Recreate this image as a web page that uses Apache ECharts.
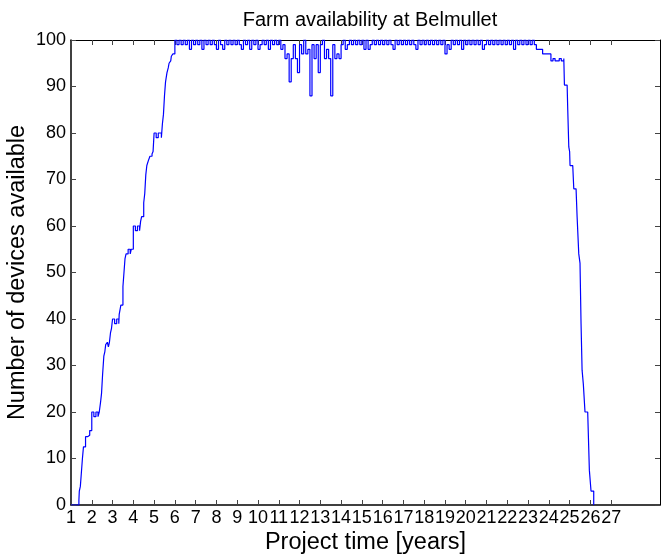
<!DOCTYPE html>
<html>
<head>
<meta charset="utf-8">
<script src="https://cdn.jsdelivr.net/npm/echarts@6/dist/echarts.min.js"></script>
<style>
  html, body { margin: 0; padding: 0; background: #fff; }
  #chart { width: 662px; height: 558px; }
</style>
</head>
<body>
<div id="chart"></div>
<script>
// x tick labels (years)
var xTicks = [1, 2, 3, 4, 5, 6, 7, 8, 9, 10, 11, 12, 13, 14, 15, 16, 17, 18, 19, 20, 21, 22, 23, 24, 25, 26, 27];

// installation phase: [year, devices available]
var rampUp = [
    [1.0, 0], [1.38, 1], [1.4, 3], [1.45, 4], [1.5, 7], [1.55, 10], [1.6, 12.5], [1.7, 14.7],
    [1.8, 15], [1.9, 16], [2.0, 20], [2.1, 19], [2.2, 20], [2.3, 19], [2.36, 20], [2.42, 22],
    [2.47, 24], [2.52, 28], [2.58, 32], [2.63, 33], [2.67, 34.5], [2.75, 35], [2.8, 34],
    [2.85, 35], [2.9, 37], [2.95, 38], [3.0, 40], [3.1, 39], [3.2, 40], [3.3, 39], [3.32, 41],
    [3.4, 43], [3.5, 47], [3.55, 50], [3.6, 53], [3.65, 54], [3.75, 55], [3.85, 54], [3.9, 55],
    [4.0, 60], [4.1, 59], [4.2, 60], [4.3, 59], [4.35, 61], [4.4, 62], [4.5, 65], [4.55, 67],
    [4.6, 71], [4.65, 73], [4.72, 74], [4.8, 75], [4.9, 75.5], [4.95, 76], [5.0, 80], [5.1, 79],
    [5.2, 80], [5.35, 79], [5.4, 82], [5.45, 84], [5.5, 88], [5.55, 91], [5.62, 93], [5.68, 94],
    [5.72, 95], [5.8, 95.5], [5.83, 96.5], [5.9, 97]
];

// operation phase, sampled every 0.1 year from year 6.0
var plateauStart = 6.0;
var plateauStep = 0.1;
var plateau = [
    100, 99, 100, 99, 100, 99, 100, 98, 100, 99,   // 6
    100, 99, 100, 98, 100, 99, 100, 99, 100, 99,   // 7
    98, 100, 99, 98, 100, 99, 100, 99, 100, 99,    // 8
    100, 99, 98, 100, 99, 100, 98, 100, 99, 100,   // 9
    98, 99, 100, 99, 100, 98, 100, 99, 100, 99,    // 10
    100, 98, 99, 96, 97, 91, 96, 99, 96, 93,       // 11
    99, 97, 100, 97, 98, 88, 99, 96, 99, 93,       // 12
    99, 100, 96, 98, 96, 88, 99, 96, 97, 96,       // 13
    99, 100, 98, 99, 100, 99, 100, 99, 100, 99,    // 14
    100, 98, 100, 98, 99, 100, 99, 100, 99, 100,   // 15
    99, 100, 99, 100, 99, 98, 100, 99, 100, 99,    // 16
    100, 99, 100, 99, 100, 99, 98, 100, 99, 100,   // 17
    99, 100, 99, 100, 99, 100, 99, 100, 99, 100,   // 18
    97, 99, 98, 100, 99, 100, 99, 100, 98, 100,    // 19
    99, 100, 99, 100, 99, 100, 99, 100, 98, 99,    // 20
    100, 99, 100, 99, 100, 99, 100, 99, 100, 99,   // 21
    100, 99, 100, 98, 100, 99, 100, 99, 100, 99,   // 22
    100, 99, 100, 99, 98                           // 23
];

// decommissioning phase: [year, devices available]
var rampDown = [
    [23.5, 98], [23.7, 97], [24.0, 97], [24.1, 95.5], [24.2, 96], [24.3, 95.5], [24.5, 96],
    [24.6, 95.5], [24.72, 96], [24.75, 90.3], [24.88, 90], [24.91, 85], [24.96, 77], [25.0, 76],
    [25.02, 73], [25.15, 73], [25.2, 68], [25.31, 68], [25.36, 62], [25.44, 54], [25.5, 52],
    [25.55, 39], [25.6, 29], [25.66, 26], [25.74, 20], [25.87, 20], [25.95, 7.5], [26.03, 3],
    [26.11, 3], [26.16, 0]
];

var series = rampUp.slice();
plateau.forEach(function (v, i) {
    series.push([+(plateauStart + i * plateauStep).toFixed(2), v]);
});
series = series.concat(rampDown);

var FONT = 'Liberation Sans, Arial, sans-serif';
var tickStyle = { color: '#444', width: 1 };

var chart = echarts.init(document.getElementById('chart'));
chart.setOption({
    animation: false,
    title: {
        text: 'Farm availability at Belmullet',
        left: 365,
        top: 5,
        textAlign: 'center',
        textStyle: { fontFamily: FONT, fontSize: 20, fontWeight: 'normal', color: '#000' }
    },
    grid: { left: 71, right: 2, top: 40, bottom: 53, outerBoundsMode: 'none', containLabel: false },
    xAxis: [{
        type: 'value',
        min: 1,
        max: 29.35,
        position: 'bottom',
        name: 'Project time [years]',
        nameLocation: 'middle',
        nameGap: 26,
        nameMoveOverlap: false,
        nameTextStyle: { fontFamily: FONT, fontSize: 23.5, color: '#000' },
        axisLine: { onZero: false, lineStyle: { color: '#000', width: 1.5 } },
        axisTick: { inside: true, length: 5, customValues: xTicks, lineStyle: tickStyle },
        axisLabel: { customValues: xTicks, fontFamily: FONT, fontSize: 18, color: '#000', margin: 4, showMinLabel: true },
        splitLine: { show: false }
    }, {
        type: 'value',
        min: 1,
        max: 29.35,
        position: 'top',
        axisLine: { onZero: false, lineStyle: { color: '#000', width: 1 } },
        axisTick: { inside: true, length: 5, customValues: xTicks, lineStyle: tickStyle },
        axisLabel: { show: false },
        splitLine: { show: false }
    }],
    yAxis: [{
        type: 'value',
        min: 0,
        max: 100,
        interval: 10,
        position: 'left',
        name: 'Number of devices available',
        nameLocation: 'middle',
        nameGap: 41,
        nameMoveOverlap: false,
        nameTextStyle: { fontFamily: FONT, fontSize: 23.5, color: '#000' },
        axisLine: { show: true, onZero: false, lineStyle: { color: '#000', width: 1.5 } },
        axisTick: { show: true, inside: true, length: 5, lineStyle: tickStyle },
        axisLabel: { fontFamily: FONT, fontSize: 18, color: '#000', margin: 5 },
        splitLine: { show: false }
    }, {
        type: 'value',
        min: 0,
        max: 100,
        interval: 10,
        position: 'right',
        axisLine: { show: true, onZero: false, lineStyle: { color: '#000', width: 1 } },
        axisTick: { show: true, inside: true, length: 5, lineStyle: tickStyle },
        axisLabel: { show: false },
        splitLine: { show: false }
    }],
    series: [{
        type: 'line',
        xAxisIndex: 0,
        yAxisIndex: 0,
        data: series,
        step: 'end',
        showSymbol: false,
        lineStyle: { color: '#0000ff', width: 1.2 },
        z: 5
    }]
});
</script>
</body>
</html>
